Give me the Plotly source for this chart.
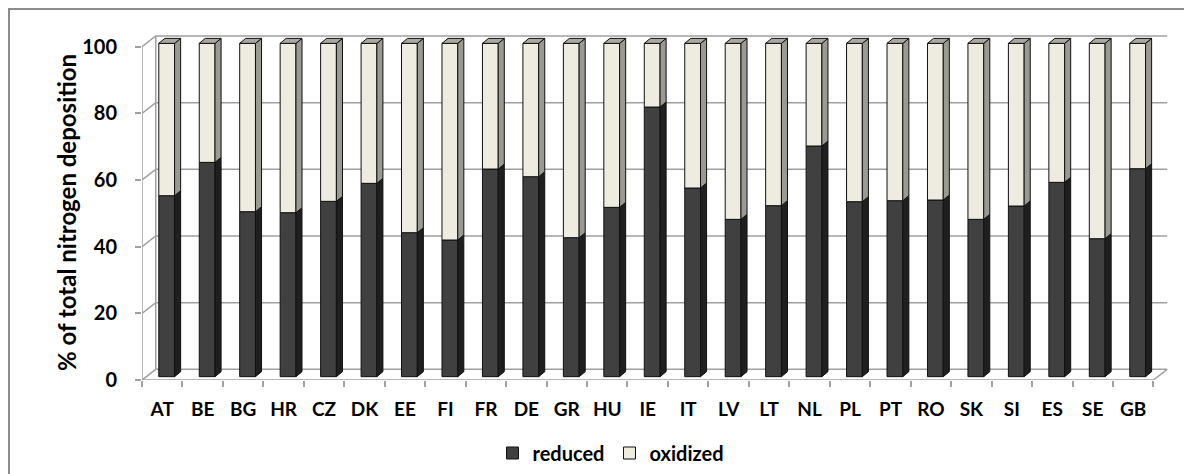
import plotly.graph_objects as go

countries = ["AT", "BE", "BG", "HR", "CZ", "DK", "EE", "FI", "FR", "DE", "GR", "HU", "IE",
             "IT", "LV", "LT", "NL", "PL", "PT", "RO", "SK", "SI", "ES", "SE", "GB"]
reduced = [54.3, 64.3, 49.5, 49.2, 52.6, 58.0, 43.2, 41.0, 62.3, 60.0, 41.7, 50.8, 80.9,
           56.6, 47.2, 51.3, 69.2, 52.5, 52.8, 53.0, 47.2, 51.2, 58.3, 41.4, 62.4]
oxidized = [round(100 - r, 1) for r in reduced]
y_ticks = [0, 20, 40, 60, 80, 100]

# pseudo-3D geometry (axis units)
BAR_W = 0.39
BAR_OFF = -0.085
BASE = 1.0
DDX, DDY = 0.15, 1.5        # bar depth
WX, WY = 0.34, 3.2          # wall depth

C_RED, C_RED_SIDE = "#404040", "#1f1f1f"
C_OX, C_OX_SIDE, C_OX_TOP = "#EEECE1", "#9a9a92", "#a9a9a1"
GRID = "#A0A0A0"
FONT = "Lato"

n = len(countries)
xs = list(range(n))

fig = go.Figure()
fig.add_trace(go.Bar(x=xs, y=reduced, base=[BASE] * n, width=BAR_W, offset=BAR_OFF,
                     name="reduced", marker=dict(color=C_RED, line=dict(color="#111", width=1))))
fig.add_trace(go.Bar(x=xs, y=oxidized, base=[BASE + r for r in reduced], width=BAR_W, offset=BAR_OFF,
                     name="oxidized", marker=dict(color=C_OX, line=dict(color="#111", width=1))))


def side_poly(lo_list, hi_list):
    px, py = [], []
    for i, (lo, hi) in enumerate(zip(lo_list, hi_list)):
        xr = i + BAR_OFF + BAR_W
        px += [xr, xr + DDX, xr + DDX, xr, xr, None]
        py += [lo, lo + DDY, hi + DDY, hi, lo, None]
    return px, py


def top_poly(top_list):
    px, py = [], []
    for i, t in enumerate(top_list):
        xl = i + BAR_OFF
        xr = xl + BAR_W
        px += [xl, xr, xr + DDX, xl + DDX, xl, None]
        py += [t, t, t + DDY, t + DDY, t, None]
    return px, py


sx, sy = side_poly([BASE] * n, [BASE + r for r in reduced])
fig.add_trace(go.Scatter(x=sx, y=sy, mode="lines", fill="toself", fillcolor=C_RED_SIDE,
                         line=dict(color="#111", width=1), showlegend=False, hoverinfo="skip"))
sx, sy = side_poly([BASE + r for r in reduced], [BASE + r + o for r, o in zip(reduced, oxidized)])
fig.add_trace(go.Scatter(x=sx, y=sy, mode="lines", fill="toself", fillcolor=C_OX_SIDE,
                         line=dict(color="#111", width=1), showlegend=False, hoverinfo="skip"))
tx, ty = top_poly([BASE + r + o for r, o in zip(reduced, oxidized)])
fig.add_trace(go.Scatter(x=tx, y=ty, mode="lines", fill="toself", fillcolor=C_OX_TOP,
                         line=dict(color="#111", width=1), showlegend=False, hoverinfo="skip"))

# walls / floor
x_lo, x_hi = -0.5, n - 0.5
shapes = []
for v in y_ticks:
    shapes.append(dict(type="path", layer="below", xref="x", yref="y",
                       path=f"M {x_lo},{v} L {x_lo + WX},{v + WY} L {x_hi + WX},{v + WY}",
                       line=dict(color=GRID, width=1.5)))
shapes.append(dict(type="line", layer="below", xref="x", yref="y", x0=x_lo, x1=x_lo, y0=0, y1=100,
                   line=dict(color=GRID, width=1.5)))
shapes.append(dict(type="line", layer="below", xref="x", yref="y", x0=x_lo + WX, x1=x_lo + WX, y0=WY, y1=100 + WY,
                   line=dict(color=GRID, width=1.5)))
shapes.append(dict(type="path", layer="below", xref="x", yref="y",
                   path=f"M {x_lo},0 L {x_hi},0 L {x_hi + WX},{WY}",
                   line=dict(color=GRID, width=1.5)))

# page coordinates (the page body has an 8px margin)
PAGE_OFF = 8
W, H = 1192 - PAGE_OFF, 474 - PAGE_OFF
L, R, T, B = 142 - PAGE_OFF, 24, 35 - PAGE_OFF, 474 - 380
pw, ph = W - L - R, H - T - B


def px2paper(px, py):
    px -= PAGE_OFF
    py -= PAGE_OFF
    return (px - L) / pw, (H - B - py) / ph


bx0, by0 = px2paper(9, 9)
bx1, by1 = px2paper(1220, 500)
shapes.append(dict(type="rect", xref="paper", yref="paper", x0=bx0, y0=by1, x1=bx1, y1=by0,
                   line=dict(color="#8c8c8c", width=2), layer="below"))

tx_title, ty_title = px2paper(66, 213)
lx, ly = px2paper(611, 453)
y_top = ph / (100 / (100 + 0) * 333.3 / 100)  # axis units visible in plot height

fig.update_layout(
    width=W, height=H, margin=dict(l=L, r=R, t=T, b=B, autoexpand=False),
    plot_bgcolor="white", paper_bgcolor="white",
    barmode="overlay", shapes=shapes,
    font=dict(family=FONT, size=20, color="black", weight="bold"),
    xaxis=dict(range=[x_lo, x_hi + WX + 0.02], tickmode="array", tickvals=xs, ticktext=countries,
               ticks="", showgrid=False, zeroline=False, showline=False,
               ticklabelstandoff=16,
               minor=dict(tickmode="array", tickvals=[i - 0.5 for i in range(n + 1)],
                          ticks="outside", ticklen=6, tickcolor=GRID, tickwidth=1.5, showgrid=False),
               tickfont=dict(family=FONT, size=19, weight="bold")),
    yaxis=dict(range=[0, ph / 3.333],
               tickmode="array", tickvals=y_ticks, ticks="outside", ticklen=6, tickcolor=GRID,
               tickwidth=1.5, showgrid=False, zeroline=False, showline=False,
               ticklabelstandoff=14, tickfont=dict(family=FONT, size=20, weight="bold")),
    showlegend=True,
    legend=dict(orientation="h", x=lx, xanchor="center", y=ly, yanchor="middle",
                font=dict(family=FONT, size=20, weight="bold"), itemwidth=30, traceorder="normal"),
    annotations=[dict(text="% of total nitrogen deposition", xref="paper", yref="paper",
                      x=tx_title, y=ty_title, textangle=-90, showarrow=False,
                      xanchor="center", yanchor="middle",
                      font=dict(family=FONT, size=24, weight="bold"))],
)

fig.write_html("out.html")
